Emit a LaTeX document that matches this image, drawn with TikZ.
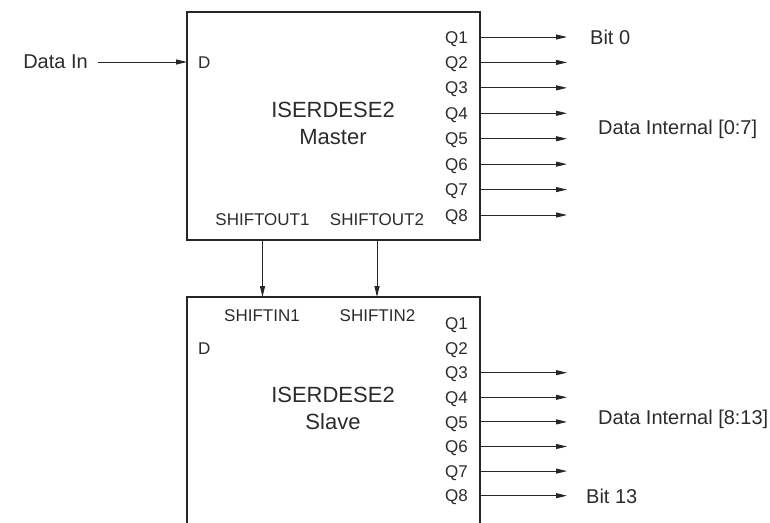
\documentclass[tikz,border=0pt]{standalone}
\usepackage{fontspec}
\setmainfont{Liberation Sans}
\usetikzlibrary{arrows.meta}
\definecolor{txt}{HTML}{2B2B2B}
\definecolor{ln}{HTML}{262626}
\begin{document}
\begin{tikzpicture}[x=1pt,y=-1pt,
  blockbox/.style={draw=ln, line width=1.6pt, inner sep=0pt, outer sep=0pt,
    minimum width=293pt, anchor=north west},
  biglab/.style={font=\fontsize{20}{24}\selectfont, text=txt, inner sep=0pt,
    text height=14.3pt, text depth=0pt},
  pinlab/.style={font=\fontsize{17}{20}\selectfont, text=txt, inner sep=0pt,
    text height=12.2pt, text depth=0pt},
  titlelab/.style={font=\fontsize{22}{27}\selectfont, text=txt, inner sep=0pt,
    align=center, anchor=north},
  sig/.style={draw=ln, line width=0.9pt, -{Triangle[length=11pt,width=5pt]}}
]
\useasboundingbox (0,0) rectangle (770,522);
\clip (0,0) rectangle (770,522);

% blocks
\node[blockbox, minimum height=228pt] (master) at (187,12) {};
\node[blockbox, minimum height=260pt] (slave) at (187,297) {};

% master contents
\node[pinlab, anchor=west] (md) at (198,62) {D};
\node[titlelab] (mtitle) at (333,102) {ISERDESE2\\Master};
\node[pinlab] (so1) at (262.5,219) {SHIFTOUT1};
\node[pinlab] (so2) at (377,219) {SHIFTOUT2};
\foreach \i in {1,...,8} {
  \node[pinlab, anchor=east] (mq\i) at (468,{37+25.43*(\i-1)}) {Q\i};
  \coordinate (mo\i) at (567,{37+25.43*(\i-1)});
  \draw[sig] (mq\i -| master.east) -- (mo\i);
}

% slave contents
\node[pinlab, anchor=west] (sd) at (198,348) {D};
\node[titlelab] (stitle) at (333,387) {ISERDESE2\\Slave};
\node[pinlab] (si1) at (262,315) {SHIFTIN1};
\node[pinlab] (si2) at (377.5,315) {SHIFTIN2};
\foreach \i in {1,...,8} {
  \node[pinlab, anchor=east] (sq\i) at (468,{323.5+24.6*(\i-1)}) {Q\i};
}
\foreach \i in {3,...,8} {
  \coordinate (sout\i) at (567,{323.5+24.6*(\i-1)});
  \draw[sig] (sq\i -| slave.east) -- (sout\i);
}

% input
\node[biglab] (datain) at (55.5,61) {Data In};
\coordinate (dstart) at (98,62);
\draw[sig] (dstart) -- (dstart -| master.west);

% cascade
\draw[sig] (so1 |- master.south) -- (so1 |- slave.north);
\draw[sig] (so2 |- master.south) -- (so2 |- slave.north);

% output labels
\node[biglab, anchor=west] (bit0) at (590,37) {Bit 0};
\node[biglab, anchor=west] (di07) at (598,127) {Data Internal [0:7]};
\node[biglab, anchor=west] (di813) at (598,417) {Data Internal [8:13]};
\node[biglab, anchor=west] (bit13) at (586,496) {Bit 13};
\end{tikzpicture}
\end{document}
